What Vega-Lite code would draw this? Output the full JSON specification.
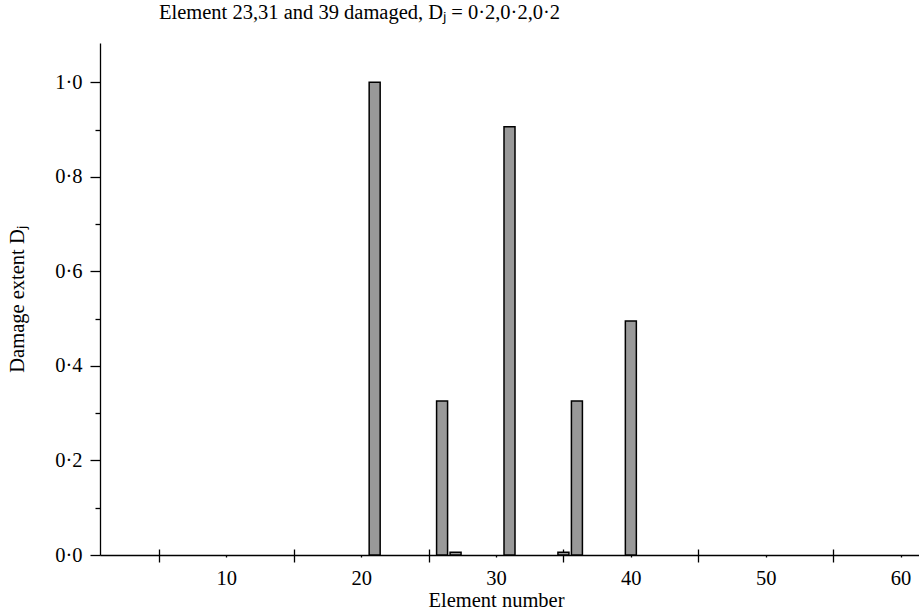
{
  "$schema": "https://vega.github.io/schema/vega-lite/v6.json",
  "width": 819,
  "height": 512,
  "autosize": {"type": "none"},
  "padding": {"left": 100, "top": 43, "right": 0, "bottom": 59},
  "background": "white",
  "config": {
    "view": {"stroke": null},
    "font": "Liberation Serif",
    "axis": {
      "domainColor": "black", "tickColor": "black", "labelColor": "black", "titleColor": "black",
      "labelFont": "Liberation Serif", "titleFont": "Liberation Serif",
      "labelFontSize": 20.5, "titleFontSize": 20.5, "titleFontWeight": "normal",
      "grid": false, "domainWidth": 1.3, "tickWidth": 1.3
    }
  },
  "title": {
    "text": "Element 23,31 and 39 damaged, Dⱼ = 0·2,0·2,0·2",
    "anchor": "start", "frame": "group", "dx": 59, "fontSize": 20.5, "fontWeight": "normal",
    "font": "Liberation Serif", "color": "black", "baseline": "alphabetic", "offset": 4
  },
  "data": {"values": [
    {"element": 21, "damage": 1.0},
    {"element": 26, "damage": 0.326},
    {"element": 27, "damage": 0.006},
    {"element": 31, "damage": 0.906},
    {"element": 35, "damage": 0.006},
    {"element": 36, "damage": 0.326},
    {"element": 40, "damage": 0.495}
  ]},
  "layer": [
    {
      "mark": {"type": "bar", "width": 11, "fill": "#999999", "stroke": "black", "strokeWidth": 1.5},
      "encoding": {
        "x": {"field": "element", "type": "quantitative",
          "scale": {"domain": [1, 61], "nice": false, "zero": false},
          "axis": {"orient": "bottom", "values": [10, 20, 30, 40, 50, 60], "tickSize": 2, "labelPadding": 11,
            "labelFlush": false, "title": "Element number", "titlePadding": 2, "titleX": 396}},
        "y": {"field": "damage", "type": "quantitative",
          "scale": {"domain": [0, 1.083], "nice": false},
          "axis": {"orient": "left", "values": [0, 0.2, 0.4, 0.6, 0.8, 1.0], "tickSize": 10, "labelPadding": 8,
            "labelExpr": "replace(format(datum.value, '.1f'), '.', '·')",
            "title": "Damage extent Dⱼ", "titlePadding": 27}}
      }
    },
    {
      "mark": {"type": "bar", "width": 11, "opacity": 0},
      "encoding": {
        "x": {"field": "element", "type": "quantitative",
          "axis": {"orient": "bottom", "values": [5, 15, 25, 35, 45, 55], "offset": -6, "tickSize": 13,
            "labels": false, "domain": false, "title": null}},
        "y": {"field": "damage", "type": "quantitative",
          "axis": {"orient": "left", "values": [0.1, 0.3, 0.5, 0.7, 0.9], "tickSize": 5,
            "labels": false, "domain": false, "title": null}}
      }
    }
  ],
  "resolve": {"axis": {"x": "independent", "y": "independent"}}
}
